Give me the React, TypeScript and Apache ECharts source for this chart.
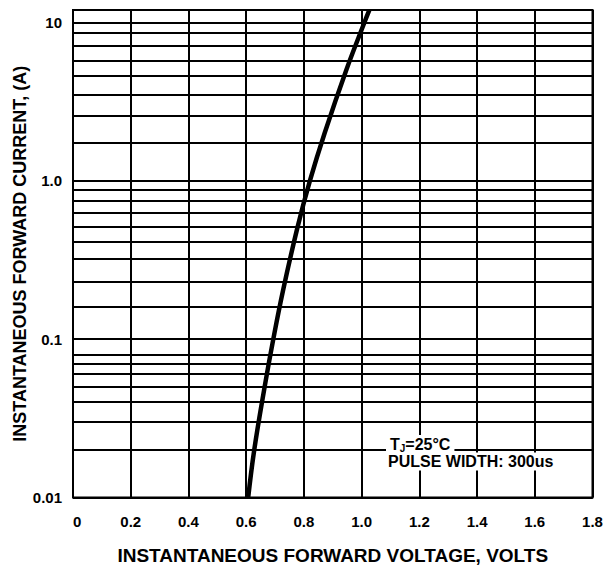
import React, { useEffect, useRef } from 'react';
import * as echarts from 'echarts';

// X axis (volts)
const xMin = 0;
const xMax = 1.8;
const xStep = 0.2;
const xTickLabels = ['0', '0.2', '0.4', '0.6', '0.8', '1.0', '1.2', '1.4', '1.6', '1.8'];

// Y axis (amps, log)
const yMin = 0.01;
const yMax = 11.96;
const yTickLabels = ['0.01', '0.1', '1.0', '10'];

// horizontal grid lines between decades
const minorGrid = [
  0.015, 0.0222, 0.0305, 0.0389, 0.0484, 0.0608, 0.0714, 0.0845,
  0.158, 0.23, 0.316, 0.412, 0.508, 0.632, 0.748, 0.882,
  1.74, 2.57, 3.48, 4.58, 5.7, 7.11, 8.53,
];

// forward characteristic curve
const current = [0.01, 0.02, 0.05, 0.1, 0.2, 0.5, 1, 2, 5, 10, 11.97];
const voltage = [0.607, 0.628, 0.664, 0.694, 0.727, 0.777, 0.821, 0.872, 0.947, 1.01, 1.027];

const xTitle = 'INSTANTANEOUS FORWARD VOLTAGE, VOLTS';
const yTitle = 'INSTANTANEOUS FORWARD CURRENT, (A)';
const noteTemp = '{t|T}{s|J}{t|=25°C}';
const notePulse = 'PULSE WIDTH: 300us';

const FONT = '"Liberation Sans", Arial, Helvetica, sans-serif';

export default function App() {
  const ref = useRef<HTMLDivElement>(null);

  useEffect(() => {
    if (!ref.current) return;
    const chart = echarts.init(ref.current, undefined, { renderer: 'svg' });
    const curve = voltage.map((v, i) => [v, current[i]]);

    chart.setOption({
      animation: false,
      backgroundColor: '#fff',
      grid: {
        left: 73,
        right: 17.5,
        top: 10,
        bottom: 71.5,
        show: true,
        borderColor: '#000',
        borderWidth: 2,
        backgroundColor: 'transparent',
        outerBoundsMode: 'none',
      },
      xAxis: {
        type: 'value',
        min: xMin,
        max: xMax,
        interval: xStep,
        axisLine: { show: false },
        axisTick: { show: false },
        splitLine: { show: true, lineStyle: { color: '#000', width: 2 } },
        axisLabel: {
          margin: 16,
          color: '#000',
          fontFamily: FONT,
          fontSize: 15,
          fontWeight: 'bold',
          alignMinLabel: 'left',
          formatter: (v: number) => xTickLabels[Math.round(v / xStep)] ?? '',
        },
        name: xTitle,
        nameLocation: 'middle',
        nameGap: 48,
        nameMoveOverlap: false,
        nameTextStyle: { color: '#000', fontFamily: FONT, fontSize: 19, fontWeight: 'bold' },
      },
      yAxis: {
        type: 'log',
        logBase: 10,
        min: yMin,
        max: yMax,
        axisLine: { show: false },
        axisTick: { show: false },
        splitLine: { show: true, lineStyle: { color: '#000', width: 2 } },
        axisLabel: {
          margin: 11,
          color: '#000',
          fontFamily: FONT,
          fontSize: 15,
          fontWeight: 'bold',
          showMaxLabel: false,
          formatter: (v: number) => {
            const l = Math.log10(v);
            const r = Math.round(l);
            if (Math.abs(l - r) > 1e-6) return '';
            return yTickLabels[r + 2] ?? '';
          },
        },
        name: yTitle,
        nameLocation: 'middle',
        nameGap: 44,
        nameRotate: 90,
        nameMoveOverlap: false,
        nameTextStyle: { color: '#000', fontFamily: FONT, fontSize: 18, fontWeight: 'bold' },
      },
      series: [
        {
          type: 'line',
          data: [],
          z: 1,
          silent: true,
          markLine: {
            silent: true,
            symbol: ['none', 'none'],
            label: { show: false },
            lineStyle: { color: '#000', width: 2, type: 'solid' },
            emphasis: { disabled: true },
            data: minorGrid.map((v) => ({ yAxis: v })),
          },
        },
        {
          type: 'line',
          data: curve,
          z: 3,
          smooth: 0.4,
          symbol: 'none',
          clip: true,
          silent: true,
          lineStyle: { color: '#000', width: 4.5 },
        },
      ],
      graphic: [
        {
          type: 'text',
          x: 386,
          y: 444,
          z: 10,
          style: {
            text: noteTemp,
            verticalAlign: 'middle',
            backgroundColor: '#fff',
            padding: [0, 4],
            fill: '#000',
            rich: {
              t: { fontFamily: FONT, fontSize: 16, fontWeight: 'bold', lineHeight: 18, fill: '#000' },
              s: { fontFamily: FONT, fontSize: 10, fontWeight: 'bold', lineHeight: 12, verticalAlign: 'bottom', fill: '#000' },
            },
          },
        },
        {
          type: 'text',
          x: 384,
          y: 461.5,
          z: 10,
          style: {
            text: notePulse,
            verticalAlign: 'middle',
            backgroundColor: '#fff',
            padding: [1, 4],
            fill: '#000',
            fontFamily: FONT,
            fontSize: 16,
            fontWeight: 'bold',
          },
        },
      ],
    });

    return () => chart.dispose();
  }, []);

  return (
    <div
      ref={ref}
      style={{ position: 'fixed', left: 0, top: 0, width: 610, height: 569, background: '#fff' }}
    />
  );
}
